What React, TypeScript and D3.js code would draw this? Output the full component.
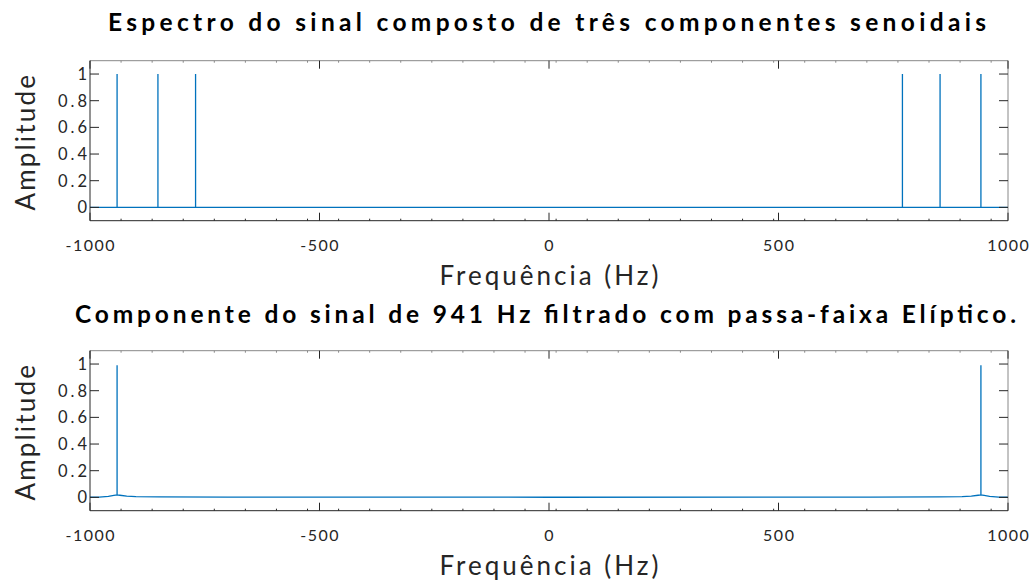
import { useEffect } from "react";
import * as d3 from "d3";

// dados
const toneFreqs = [770, 852, 941];
const toneAmps = [1, 1, 1];
const filteredFreq = 941;
const filteredPeak = 0.99;
// ruído residual do sinal filtrado (freq, amplitude) para f >= 0
const filteredFloorF = [0, 700, 850, 900, 920, 935, 941, 948, 960, 980, 1000];
const filteredFloorA = [0.001, 0.002, 0.003, 0.005, 0.01, 0.016, 0.018, 0.015, 0.008, 0.002, 0.001];

const xTicks = [-1000, -500, 0, 500, 1000];
const yTicks = [0, 0.2, 0.4, 0.6, 0.8, 1];
const titles = [
  "Espectro do sinal composto de três componentes senoidais",
  "Componente do sinal de 941 Hz filtrado com passa-faixa Elíptico.",
];
const xLabel = "Frequência (Hz)";
const yLabel = "Amplitude";

const W = 1035;
const H = 580;
const margin = { left: 90, right: 27 };
const panels = [
  { top: 60.7, bottom: 220.7, titleY: 31, titleX0: 108, titleX1: 986 },
  { top: 350.7, bottom: 510.7, titleY: 323, titleX0: 75, titleX1: 1016 },
];
const BLUE = "#0072bd";
const AX = "#262626";
const FONT = "Lato, 'Open Sans', sans-serif";

type Pt = [number, number];

const spectrumA = (): Pt[] => {
  const spikes = [...toneFreqs.map((f) => -f), ...toneFreqs].sort((a, b) => a - b);
  const amps = [...toneAmps.slice().reverse(), ...toneAmps];
  const pts: Pt[] = [[-1000, 0]];
  spikes.forEach((f, i) => {
    pts.push([f, 0], [f, amps[i]], [f, 0]);
  });
  pts.push([1000, 0]);
  return pts;
};

const spectrumB = (): Pt[] => {
  const right: Pt[] = filteredFloorF.map((f, i) => [f, filteredFloorA[i]]);
  const left: Pt[] = right
    .slice()
    .reverse()
    .filter((p) => p[0] > 0)
    .map((p) => [-p[0], p[1]] as Pt);
  const all = [...left, ...right];
  const out: Pt[] = [];
  all.forEach((p) => {
    out.push(p);
    if (Math.abs(p[0]) === filteredFreq) out.push([p[0], filteredPeak], p);
  });
  return out;
};

const Panel = ({ idx, data }: { idx: number; data: Pt[] }) => {
  const p = panels[idx];
  const x = d3.scaleLinear().domain([-1000, 1000]).range([margin.left, W - margin.right]);
  const y = d3.scaleLinear().domain([-0.1, 1.1]).range([p.bottom, p.top]);
  const line = d3
    .line<Pt>()
    .x((d) => x(d[0]))
    .y((d) => y(d[1]));
  const minor = d3.range(1, 30).map((k) => -1000 + k * 67.7);
  const cx = (x.range()[0] + x.range()[1]) / 2;
  const cy = (p.top + p.bottom) / 2;
  const yls = 3;
  return (
    <g>
      <text
        x={p.titleX0}
        y={p.titleY}
        fontFamily={FONT}
        fontWeight="bold"
        fontSize={24.5}
        fill="#000"
        textLength={p.titleX1 - p.titleX0}
        lengthAdjust="spacing"
      >
        {titles[idx]}
      </text>
      {/* linha */}
      <path d={line(data) || ""} fill="none" stroke={BLUE} strokeWidth={1.3} />
      {/* caixa */}
      <line x1={x(-1000)} x2={x(1000)} y1={p.top} y2={p.top} stroke="#888" strokeWidth={1} />
      <line x1={x(1000)} x2={x(1000)} y1={p.top} y2={p.bottom} stroke="#888" strokeWidth={1} />
      <line x1={x(-1000)} x2={x(1000)} y1={p.bottom} y2={p.bottom} stroke={AX} strokeWidth={1} />
      <line x1={x(-1000)} x2={x(-1000)} y1={p.top} y2={p.bottom} stroke={AX} strokeWidth={1} />
      {minor.map((t) => (
        <g key={"m" + t}>
          <line x1={x(t)} x2={x(t)} y1={p.bottom} y2={p.bottom - 2} stroke={AX} />
          <line x1={x(t)} x2={x(t)} y1={p.top} y2={p.top + 2} stroke="#888" />
        </g>
      ))}
      {xTicks.map((t) => (
        <g key={"x" + t}>
          <line x1={x(t)} x2={x(t)} y1={p.bottom} y2={p.bottom - 8} stroke={AX} />
          <line x1={x(t)} x2={x(t)} y1={p.top} y2={p.top + 8} stroke={AX} />
          <text
            x={x(t) + 0.75}
            y={p.bottom + 30}
            textAnchor="middle"
            fontFamily={FONT}
            fontSize={16}
            letterSpacing={1.5}
            fill={AX}
          >
            {t}
          </text>
        </g>
      ))}
      {yTicks.map((t) => (
        <g key={"y" + t}>
          <line x1={x(-1000)} x2={x(-1000) + 9} y1={y(t)} y2={y(t)} stroke={AX} />
          <line x1={x(1000)} x2={x(1000) - 9} y1={y(t)} y2={y(t)} stroke={AX} />
          <text
            x={x(-1000) - 3 + yls}
            y={y(t) + 6}
            textAnchor="end"
            fontFamily={FONT}
            fontSize={16.5}
            letterSpacing={yls}
            fill={AX}
          >
            {t}
          </text>
        </g>
      ))}
      <text
        x={cx + 1.5}
        y={p.bottom + 64}
        textAnchor="middle"
        fontFamily={FONT}
        fontSize={26}
        letterSpacing={3}
        fill={AX}
      >
        {xLabel}
      </text>
      <text
        transform={`translate(35,${cy + 1}) rotate(-90)`}
        textAnchor="middle"
        fontFamily={FONT}
        fontSize={26}
        letterSpacing={2.2}
        fill={AX}
      >
        {yLabel}
      </text>
    </g>
  );
};

export default function App() {
  useEffect(() => {
    document.body.style.margin = "0";
  }, []);
  return (
    <svg width={W} height={H} style={{ display: "block", background: "#fff" }}>
      <Panel idx={0} data={spectrumA()} />
      <Panel idx={1} data={spectrumB()} />
    </svg>
  );
}
